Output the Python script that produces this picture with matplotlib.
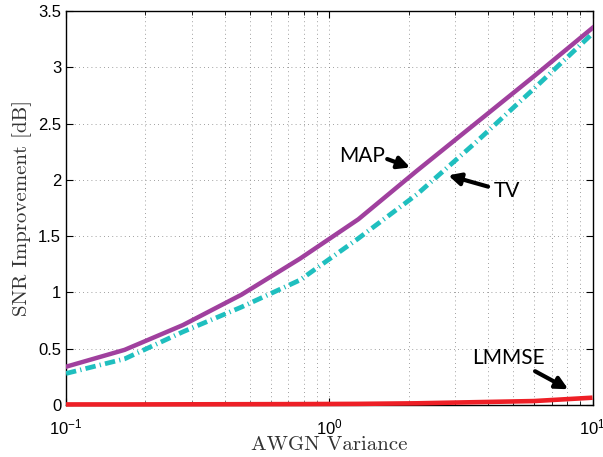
import matplotlib
matplotlib.use('Agg')
import matplotlib.pyplot as plt
import numpy as np

# AWGN variance points (log-spaced from 0.1 to 10)
variance = [0.1, 0.167, 0.278, 0.464, 0.774, 1.29, 2.15, 3.59, 5.99, 10.0]
snr_map = [0.34, 0.49, 0.71, 0.98, 1.30, 1.65, 2.08, 2.50, 2.92, 3.35]
snr_tv = [0.28, 0.41, 0.65, 0.87, 1.11, 1.48, 1.87, 2.33, 2.81, 3.30]
snr_lmmse = [0.005, 0.005, 0.006, 0.007, 0.008, 0.010, 0.015, 0.025, 0.035, 0.065]

yticks = [0, 0.5, 1, 1.5, 2, 2.5, 3, 3.5]
ytick_labels = ['0', '0.5', '1', '1.5', '2', '2.5', '3', '3.5']

plt.rcParams['font.family'] = ['Liberation Sans', 'DejaVu Sans']
plt.rcParams['mathtext.fontset'] = 'custom'
plt.rcParams['mathtext.rm'] = 'Liberation Sans'
plt.rcParams['mathtext.it'] = 'Liberation Sans'
plt.rcParams['mathtext.default'] = 'regular'

fig = plt.figure(figsize=(6.03, 4.57), dpi=100)
ax = fig.add_axes([0.1095, 0.1138, 0.8731, 0.8621])

ax.plot(variance, snr_lmmse, color='#ee1f26', lw=3.3, solid_capstyle='butt', zorder=3, clip_on=False)
ax.plot(variance, snr_tv, color='#1fbfbf', lw=3.4, linestyle=(0, (2.2, 0.9, 0.25, 0.9)), zorder=3)
ax.plot(variance, snr_map, color='#a0409e', lw=3.2, zorder=4)

ax.set_xscale('log')
ax.set_xlim(0.1, 10)
ax.set_ylim(0, 3.5)
ax.set_yticks(yticks)
ax.set_yticklabels(ytick_labels)

ax.grid(True, which='major', color='0.5', linestyle=(0, (1, 4)), lw=0.6)
ax.grid(True, which='minor', axis='x', color='0.5', linestyle=(0, (1, 4)), lw=0.6)

ax.tick_params(which='both', direction='in', top=True, right=True, labelsize=12)
ax.tick_params(which='major', length=5)
ax.tick_params(which='minor', length=3)
ax.tick_params(axis='x', which='major', pad=9)
for s in ax.spines.values():
    s.set_linewidth(1.0)

ax.set_xlabel('AWGN Variance', family='cmr10', fontsize=15, color='#333333', labelpad=-1)
ax.set_ylabel('SNR Improvement [dB]', family='cmr10', fontsize=15, color='#333333', labelpad=4)

# annotations
arrow = dict(arrowstyle='-|>', lw=3, color='black', mutation_scale=18, shrinkA=0, shrinkB=0)
ax.text(1.33, 2.21, 'MAP', fontsize=15, family='Lato', ha='center', va='center')
ax.annotate('', xy=(2.03, 2.11), xytext=(1.66, 2.185), arrowprops=arrow)
ax.text(4.75, 1.90, 'TV', fontsize=15, family='Lato', ha='center', va='center')
ax.annotate('', xy=(2.83, 2.04), xytext=(4.01, 1.94), arrowprops=arrow)
ax.text(4.78, 0.42, 'LMMSE', fontsize=15, family='Lato', ha='center', va='center')
ax.annotate('', xy=(8.09, 0.14), xytext=(6.05, 0.30), arrowprops=arrow)

fig.savefig('out.png', dpi=100)
